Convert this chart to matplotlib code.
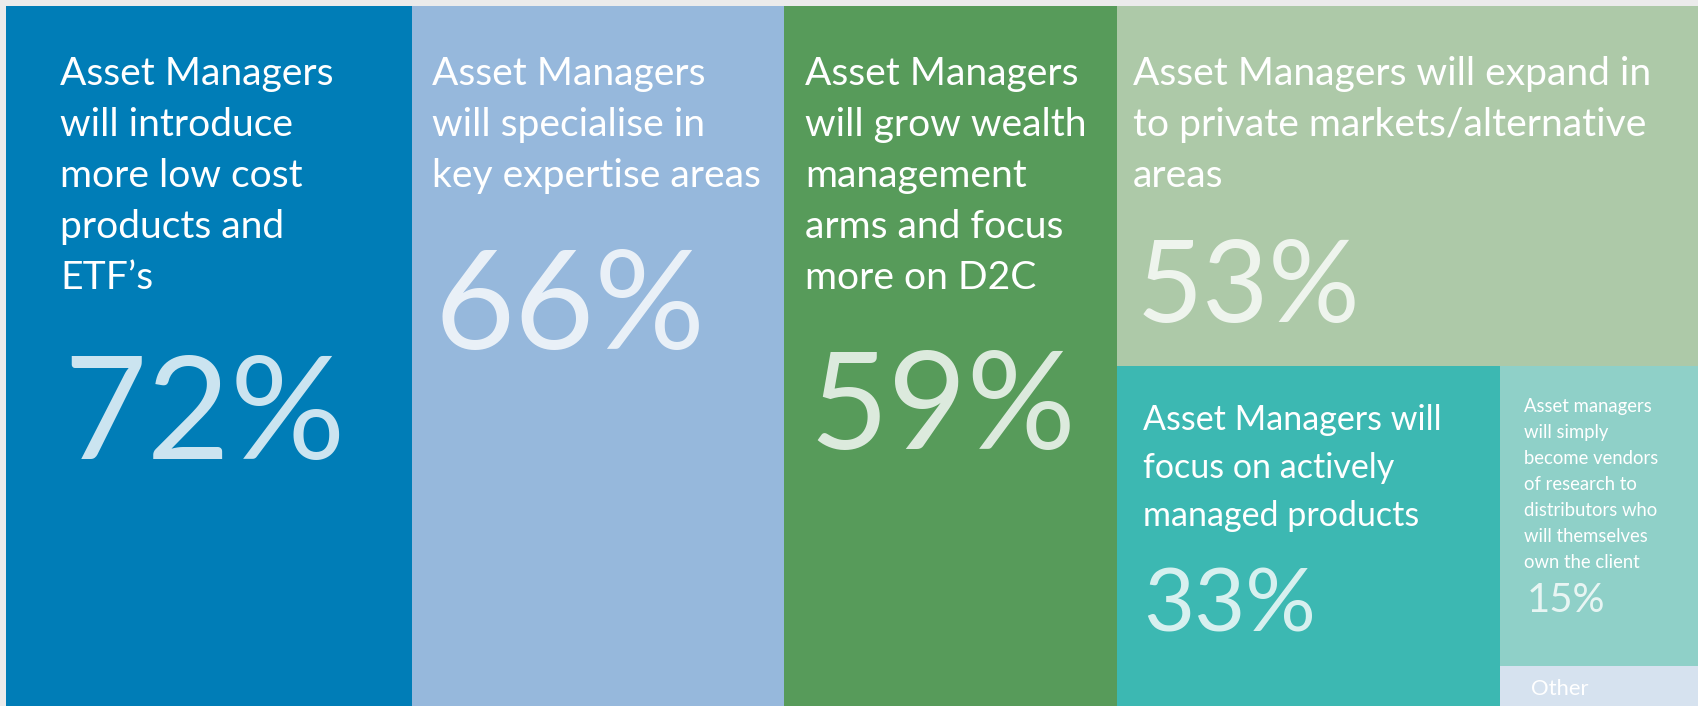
import matplotlib
matplotlib.use("Agg")
import matplotlib.pyplot as plt
from matplotlib.patches import Rectangle
from matplotlib.transforms import offset_copy

# ---------------- data ----------------
labels = [
    "Asset Managers\nwill introduce\nmore low cost\nproducts and\nETF\u2019s",
    "Asset Managers\nwill specialise in\nkey expertise areas",
    "Asset Managers\nwill grow wealth\nmanagement\narms and focus\nmore on D2C",
    "Asset Managers will expand in\nto private markets/alternative\nareas",
    "Asset Managers will\nfocus on actively\nmanaged products",
    "Asset managers\nwill simply\nbecome vendors\nof research to\ndistributors who\nwill themselves\nown the client",
    "Other",
]
values = [72, 66, 59, 53, 33, 15, 2]
pct_labels = ["72%", "66%", "59%", "53%", "33%", "15%", ""]

# ---------------- style ----------------
colors = ["#007DB7", "#96B8DC", "#579B5A", "#ADC9A8", "#3CB8B2", "#8FD0C8", "#D6E2EF"]
# title: (dx, first baseline dy, line spacing, fontsize) in pixels from box top-left
title_style = [
    (54, 79, 51, 39),
    (20, 79, 51, 39),
    (21, 79, 51, 39),
    (16, 79, 51, 39),
    (26, 64, 48, 34),
    (24, 46, 26, 18.5),
    (31, 29, 0, 22),
]
# percentage: (dx, baseline dy, fontsize)
pct_style = [
    (57, 453, 144),
    (22, 343, 138),
    (25, 443, 136),
    (20, 316, 114),
    (26, 265, 88),
    (26, 246, 40),
    (0, 0, 10),
]

W, H, DPI = 1698, 706, 72
fig = plt.figure(figsize=(W / DPI, H / DPI), dpi=DPI)
fig.patch.set_facecolor("#EBEBEB")
ax = fig.add_axes([6 / W, 0, (W - 6) / W, (H - 6) / H])
total = sum(values)
ax.set_xlim(0, total)
ax.set_ylim(1, 0)
ax.axis("off")

# ---------------- treemap layout from values ----------------
rects = []
x = 0.0
for v in values[:3]:
    rects.append((x, 0.0, v, 1.0))
    x += v
rest_w = total - x
h4 = values[3] / rest_w
rects.append((x, 0.0, rest_w, h4))
hb = 1.0 - h4
w5 = values[4] / hb
rects.append((x, h4, w5, hb))
w6 = (values[5] + values[6]) / hb
h6 = hb * values[5] / (values[5] + values[6])
rects.append((x + w5, h4, w6, h6))
rects.append((x + w5, h4 + h6, w6, hb - h6))

for i, (rx, ry, rw, rh) in enumerate(rects):
    ax.add_patch(Rectangle((rx, ry), rw, rh, facecolor=colors[i], edgecolor="none"))
    dx, dy, sp, fs = title_style[i]
    for j, line in enumerate(labels[i].split("\n")):
        tr = offset_copy(ax.transData, fig=fig, x=dx, y=-(dy + j * sp), units="dots")
        ax.text(rx, ry, line, transform=tr, fontsize=fs, color="white",
                family=["Lato", "DejaVu Sans"], va="baseline", ha="left")
    if pct_labels[i]:
        pdx, pdy, pfs = pct_style[i]
        tr = offset_copy(ax.transData, fig=fig, x=pdx, y=-pdy, units="dots")
        ax.text(rx, ry, pct_labels[i], transform=tr, fontsize=pfs, color="white",
                alpha=0.8, family=["Lato", "DejaVu Sans"], fontweight="normal",
                va="baseline", ha="left")

fig.savefig("out.png", dpi=DPI, facecolor=fig.get_facecolor())
